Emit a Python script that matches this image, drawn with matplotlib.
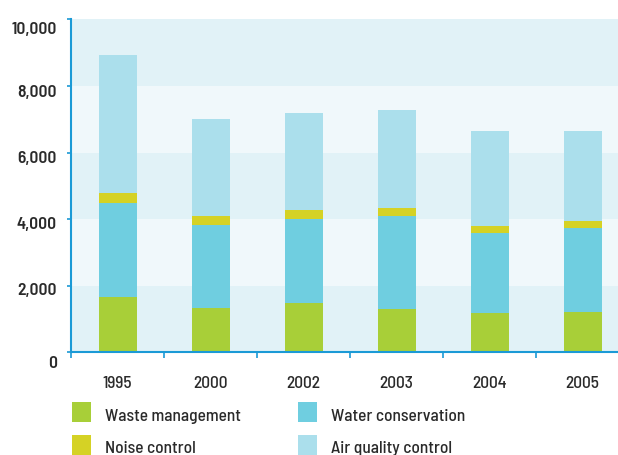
import matplotlib
matplotlib.use("Agg")
import matplotlib.pyplot as plt
import matplotlib.transforms as mtransforms
from matplotlib.patches import Rectangle
from matplotlib import font_manager

years = ["1995", "2000", "2002", "2003", "2004", "2005"]
waste = [1660, 1340, 1490, 1300, 1180, 1220]
water = [2820, 2480, 2510, 2790, 2400, 2520]
noise = [300, 270, 270, 240, 210, 200]
air = [4150, 2920, 2920, 2950, 2860, 2710]
series_names = ["Waste management", "Water conservation", "Noise control", "Air quality control"]
yticks = [0, 2000, 4000, 6000, 8000, 10000]
ytick_labels = ["0", "2,000", "4,000", "6,000", "8,000", "10,000"]

colors = {"Waste management": "#a8cf38", "Water conservation": "#6fcee0",
          "Noise control": "#d5d225", "Air quality control": "#abdfec"}

names = {f.name for f in font_manager.fontManager.ttflist}
fam = "Barlow Semi Condensed" if "Barlow Semi Condensed" in names else "DejaVu Sans"
plt.rcParams["font.family"] = [fam, "DejaVu Sans"]

fig = plt.figure(figsize=(6.18, 4.55), dpi=100)
W, H = 618, 455
ax = fig.add_axes([71 / W, (H - 352.3) / H, 1 - 71 / W, (352.3 - 19.3) / H])

# background bands
band_dark = "#e1f2f7"
band_light = "#f0f8fb"
for i in range(len(yticks) - 1):
    ax.axhspan(yticks[i], yticks[i + 1], color=band_dark if i % 2 == 0 else band_light,
               zorder=0, lw=0)

x = list(range(len(years)))
bw = 38 / 93
bottom = [0] * len(years)
for name, vals in zip(series_names, [waste, water, noise, air]):
    ax.bar(x, vals, bottom=bottom, width=bw, color=colors[name], lw=0, zorder=2)
    bottom = [b + v for b, v in zip(bottom, vals)]

ax.set_xlim(-0.5, 5.38)
ax.set_ylim(0, 10000)

spine_c = "#1b9ad6"
for s in ["top", "right"]:
    ax.spines[s].set_visible(False)
for s in ["left", "bottom"]:
    ax.spines[s].set_color(spine_c)
    ax.spines[s].set_linewidth(1.5)

ax.set_yticks(yticks)
ax.set_yticklabels(ytick_labels, fontsize=12.5, fontweight=600, color="#2a2a2a")
ax.tick_params(axis="y", length=3, width=1.2, color=spine_c, pad=7)
label_dy_px = [10, 3.5, 4, 4.4, 5, 8.7]
for lab, dy in zip(ax.get_yticklabels(), label_dy_px):
    off = mtransforms.ScaledTranslation(0, -dy / 100, fig.dpi_scale_trans)
    lab.set_transform(lab.get_transform() + off)

ax.set_xticks([i - 0.5 for i in range(len(years))])
ax.set_xticklabels([])
ax.tick_params(axis="x", length=4, width=1.2, color=spine_c)
for i, yr in enumerate(years):
    ax.text(i, (H - 388) / H, yr, transform=mtransforms.blended_transform_factory(ax.transData, fig.transFigure),
            ha="center", va="baseline", fontsize=12.5, fontweight=500, color="#2a2a2a")

# legend (manual)
leg = [("Waste management", 72, 402, 421), ("Water conservation", 298, 402, 421),
       ("Noise control", 72, 435, 453), ("Air quality control", 298, 435, 453)]
for name, px, py, base in leg:
    fig.patches.append(Rectangle((px / W, 1 - (py + 19.5) / H), 19 / W, 19.5 / H,
                                 transform=fig.transFigure, color=colors[name], lw=0))
    tx = 104.7 if px < 200 else 331
    fig.text(tx / W, 1 - base / H, name, ha="left", va="baseline", fontsize=12.5,
             fontweight=500, color="#2a2a2a")

fig.savefig("out.png", dpi=100)
